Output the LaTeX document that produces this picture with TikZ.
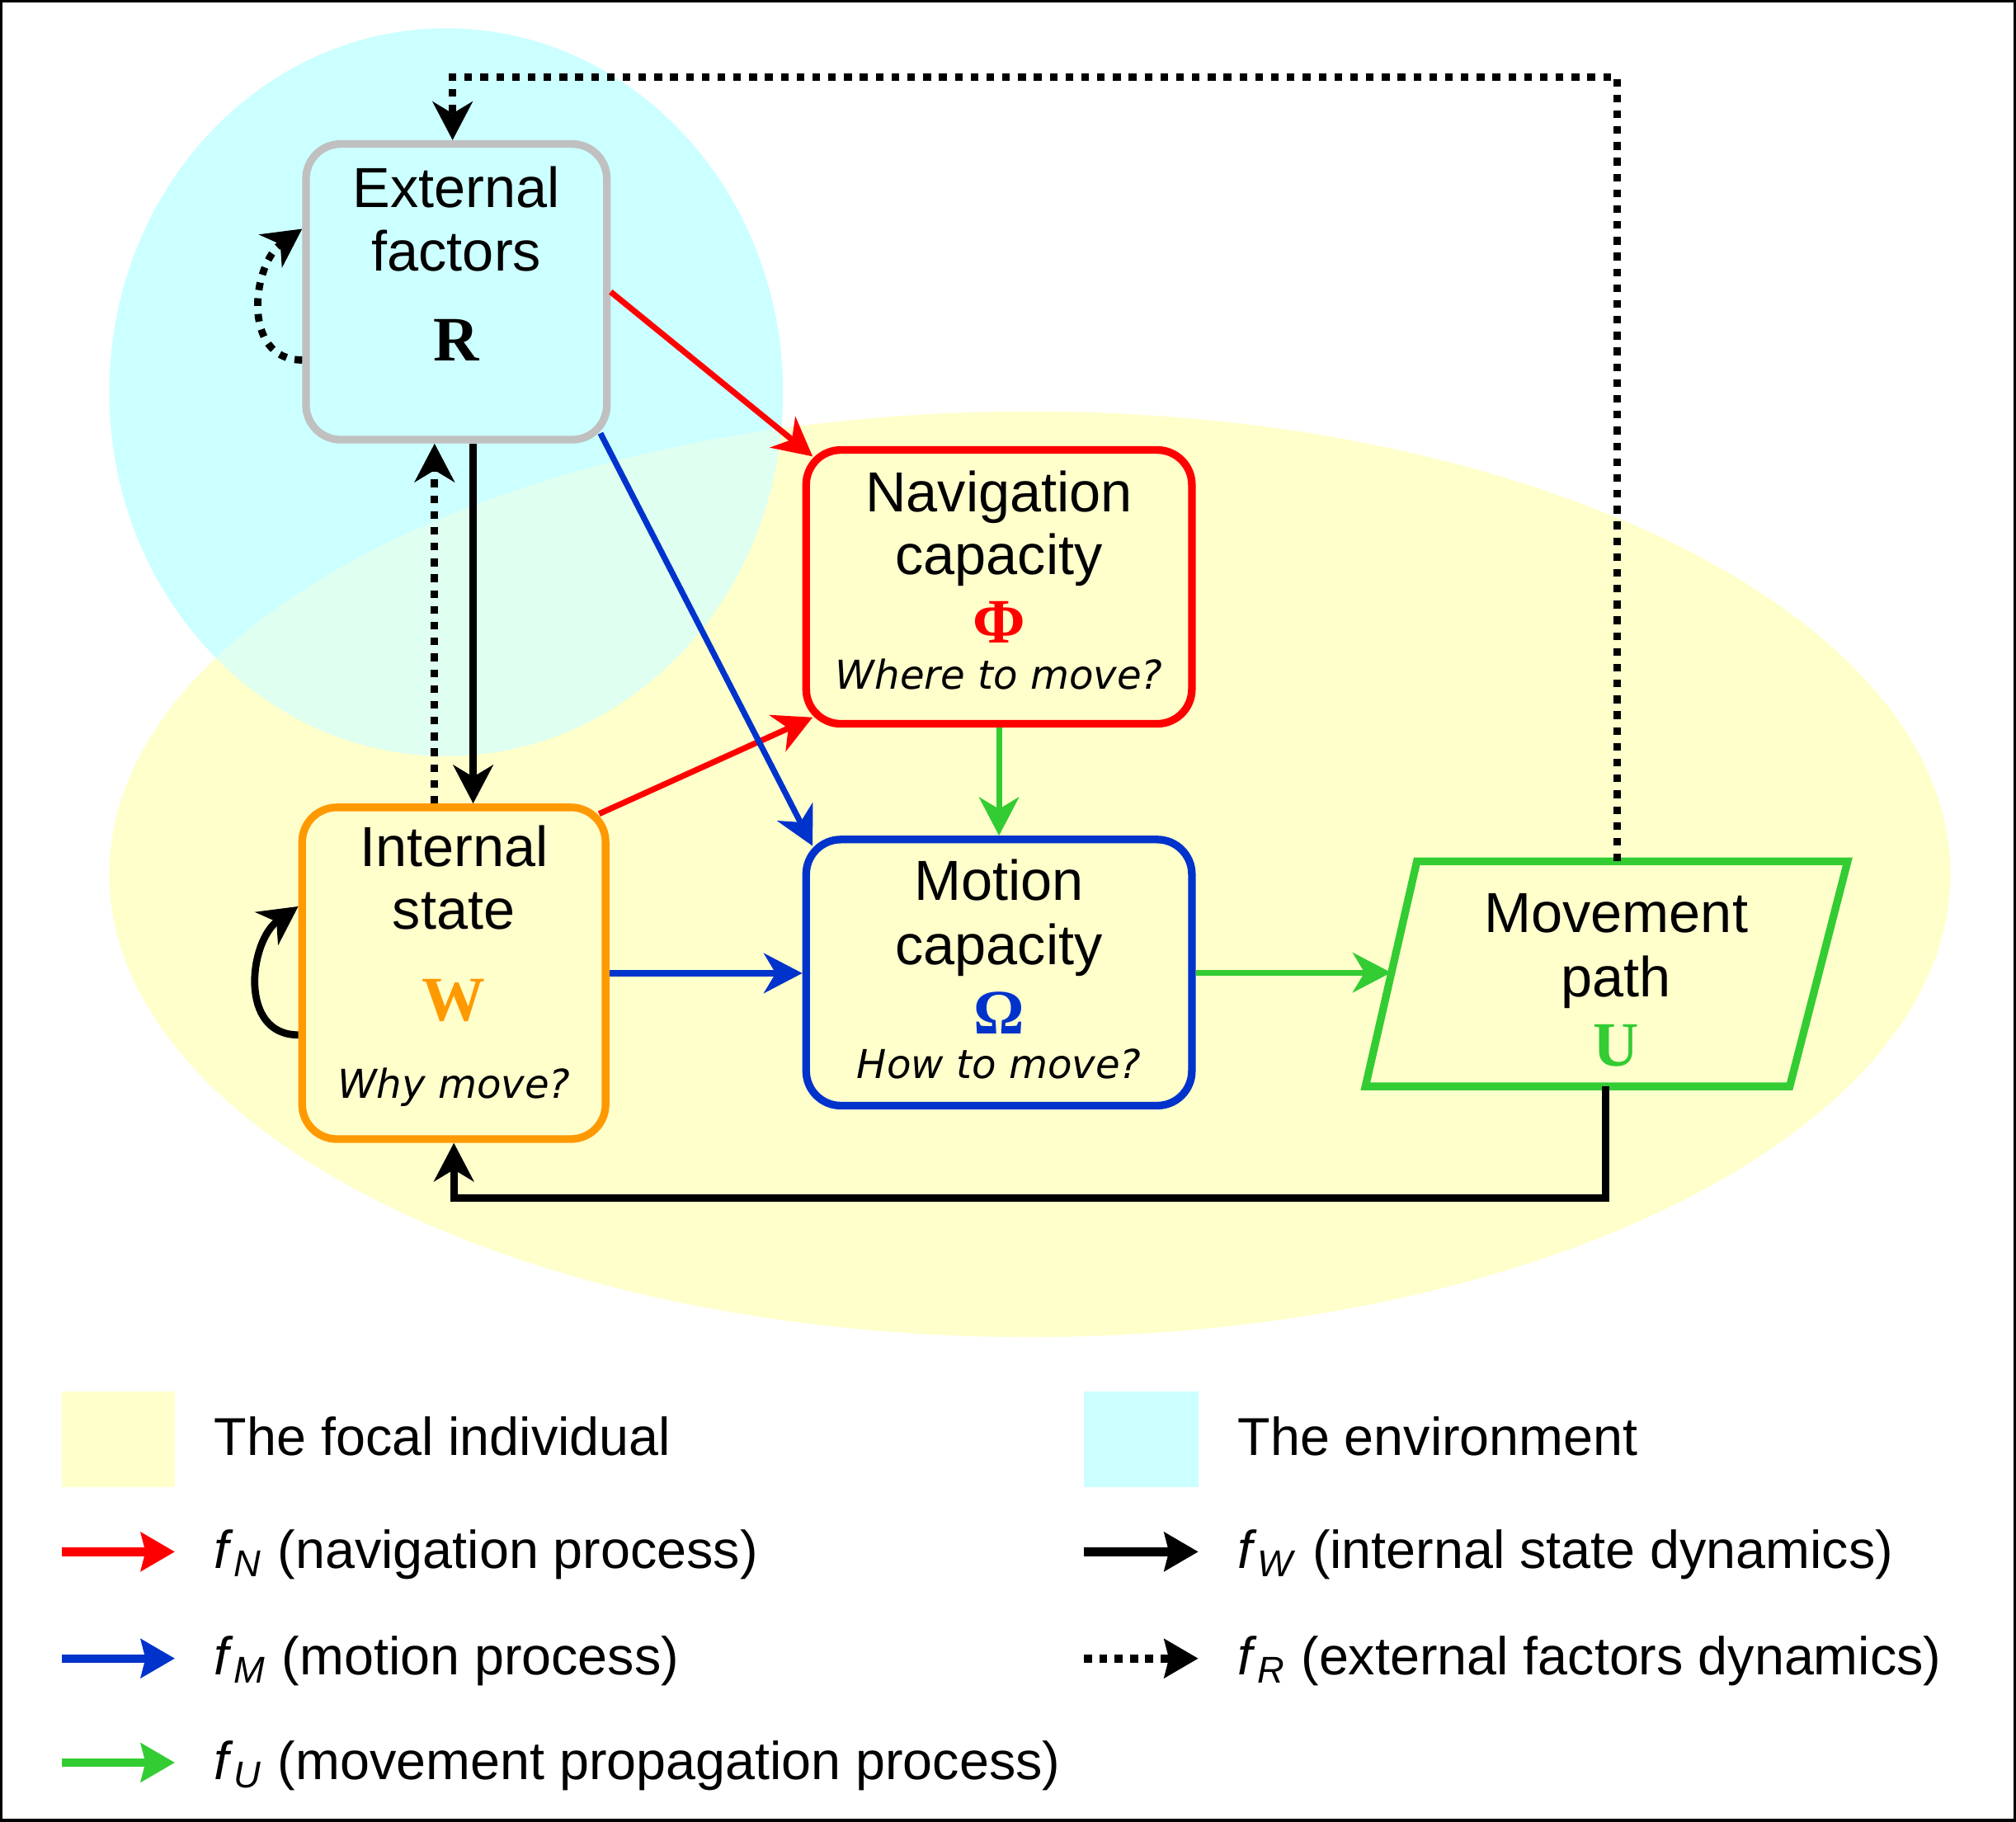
\documentclass[tikz,border=0pt]{standalone}
\usepackage{fontspec}
\setmainfont{Liberation Sans}
\newfontfamily\askfont{DejaVu Sans}
\newfontfamily\symbfont{Liberation Serif}
\usetikzlibrary{arrows.meta}

\definecolor{indivfill}{HTML}{FFFFCC}
\definecolor{envfill}{HTML}{CCFFFF}
\definecolor{bothfill}{HTML}{DFFFF0}
\definecolor{navred}{HTML}{FF0000}
\definecolor{motblue}{HTML}{0033CC}
\definecolor{pathgreen}{HTML}{33CC33}
\definecolor{stateorange}{HTML}{FF9900}
\definecolor{extgray}{HTML}{C0C0C0}

\begin{document}
\begin{tikzpicture}[
    arr/.style={-{Stealth[length=8.5pt,width=8.8pt,inset=2.6pt]}},
    lgarr/.style={-{Stealth[length=7.5pt,width=8.5pt,inset=1pt]}},
    box/.style={draw,rounded corners=2.7mm,line width=1.7pt,inner sep=0pt},
    boxtxt/.style={font=\fontsize{12.5}{14}\selectfont,anchor=base,inner sep=0pt},
    symb/.style={font=\fontsize{14}{16}\selectfont\symbfont\bfseries,anchor=base,inner sep=0pt},
    ask/.style={font=\fontsize{8.8}{10}\selectfont\askfont\itshape,anchor=base,inner sep=0pt},
    lg/.style={font=\fontsize{11.8}{14}\selectfont,anchor=base west,inner sep=0pt},
    fN/.style={line width=1.3pt,navred},
    fM/.style={line width=1.3pt,motblue},
    fU/.style={line width=1.3pt,pathgreen},
    fW/.style={line width=1.6pt,black},
    fR/.style={line width=1.6pt,black,dash pattern=on 1.7pt off 1.8pt},
  ]
  \useasboundingbox (0,0) rectangle (15.68,-14.17);

  % the focal individual and the environment
  \fill[indivfill] (8.01,-6.80) ellipse [x radius=7.16, y radius=3.60];
  \fill[envfill] (3.47,-3.05) ellipse [x radius=2.62, y radius=2.83];
  \begin{scope}
    \clip (8.01,-6.80) ellipse [x radius=7.16, y radius=3.60];
    \fill[bothfill] (3.47,-3.05) ellipse [x radius=2.62, y radius=2.83];
  \end{scope}

  % components
  \node[box,draw=extgray,minimum width=2.34cm,minimum height=2.30cm] (ext) at (3.55,-2.27) {};
  \node[box,draw=navred,minimum width=3.00cm,minimum height=2.13cm] (nav) at (7.77,-4.565) {};
  \node[box,draw=stateorange,minimum width=2.36cm,minimum height=2.58cm] (int) at (3.53,-7.57) {};
  \node[box,draw=motblue,minimum width=3.00cm,minimum height=2.07cm] (mot) at (7.77,-7.565) {};
  \draw[pathgreen,line width=1.7pt] (10.62,-8.45) -- (11.02,-6.70) -- (14.37,-6.70) -- (13.92,-8.45) -- cycle;
  \coordinate (mvp-left) at (10.82,-7.575);
  \coordinate (mvp-top) at (12.58,-6.70);
  \coordinate (mvp-bot) at (12.49,-8.45);

  \node[boxtxt] (ext-a) at (3.55,-1.615) {External};
  \node[boxtxt] (ext-b) at (3.55,-2.105) {factors};
  \node[symb] (ext-s) at (3.55,-2.81) {R};

  \node[boxtxt] (nav-a) at (7.77,-3.98) {Navigation};
  \node[boxtxt] (nav-b) at (7.77,-4.47) {capacity};
  \node[symb,navred] (nav-s) at (7.77,-5.00) {Φ};
  \node[ask] (nav-q) at (7.77,-5.36) {Where to move?};

  \node[boxtxt] (int-a) at (3.53,-6.74) {Internal};
  \node[boxtxt] (int-b) at (3.53,-7.23) {state};
  \node[symb,stateorange] (int-s) at (3.53,-7.94) {W};
  \node[ask] (int-q) at (3.53,-8.54) {Why move?};

  \node[boxtxt] (mot-a) at (7.77,-7.00) {Motion};
  \node[boxtxt] (mot-b) at (7.77,-7.50) {capacity};
  \node[symb,motblue] (mot-s) at (7.77,-8.04) {Ω};
  \node[ask] (mot-q) at (7.77,-8.39) {How to move?};

  \node[boxtxt] (mvp-a) at (12.57,-7.25) {Movement};
  \node[boxtxt] (mvp-b) at (12.57,-7.75) {path};
  \node[symb,pathgreen] (mvp-s) at (12.57,-8.29) {U};

  % processes
  \draw[fN,arr] (ext.east) -- ([shift={(0.08,-0.08)}]nav.north west);
  \draw[fN,arr] ([shift={(-0.08,-0.08)}]int.north east) -- ([shift={(0.08,0.08)}]nav.south west);
  \draw[fM,arr] ([shift={(-0.08,0.08)}]ext.south east) -- ([shift={(0.08,-0.08)}]mot.north west);
  \draw[fM,arr] (int.east) -- (int.east -| mot.west);
  \draw[fU,arr] (nav.south) -- (mot.north);
  \draw[fU,arr] (mot.east) -- (mot.east -| mvp-left);

  % dynamics
  \draw[fW,arr] ([xshift=0.13cm]ext.south) -- ([xshift=0.13cm]ext.south |- int.north);
  \draw[fR,arr] ([xshift=-0.17cm]ext.south |- int.north) -- ([xshift=-0.17cm]ext.south);
  \draw[fW,arr] ([yshift=-0.48cm]int.west) to[out=180,in=215,looseness=1.2] ([yshift=0.52cm]int.west);
  \draw[fR,arr] ([yshift=-0.53cm]ext.west) to[out=180,in=215,looseness=1.2] ([yshift=0.49cm]ext.west);
  \draw[fW,arr] (mvp-bot) -- ++(0,-0.87) -| (int.south);
  \coordinate (topline) at (0,-0.60);
  \draw[fR,arr] (mvp-top) -- (mvp-top |- topline) -| ([xshift=-0.03cm]ext.north);

  % legend
  \fill[indivfill] (0.48,-10.82) rectangle (1.36,-11.57);
  \fill[envfill] (8.43,-10.82) rectangle (9.32,-11.57);
  \node[lg] (lg-ind) at (1.66,-11.32) {The focal individual};
  \node[lg] (lg-env) at (9.62,-11.32) {The environment};
  \node[lg] (lg-N) at (1.66,-12.20) {\textit{f}\textsubscript{\textit{N}} (navigation process)};
  \node[lg] (lg-M) at (1.66,-13.03) {\textit{f}\textsubscript{\textit{M}} (motion process)};
  \node[lg] (lg-U) at (1.66,-13.84) {\textit{f}\textsubscript{\textit{U}} (movement propagation process)};
  \node[lg] (lg-W) at (9.62,-12.20) {\textit{f}\textsubscript{\textit{W}} (internal state dynamics)};
  \node[lg] (lg-R) at (9.62,-13.03) {\textit{f}\textsubscript{\textit{R}} (external factors dynamics)};
  \draw[line width=1.9pt,navred,lgarr] ([shift={(-1.18,0.13)}]lg-N.base west) -- ([shift={(-0.30,0.13)}]lg-N.base west);
  \draw[line width=1.9pt,motblue,lgarr] ([shift={(-1.18,0.13)}]lg-M.base west) -- ([shift={(-0.30,0.13)}]lg-M.base west);
  \draw[line width=1.9pt,pathgreen,lgarr] ([shift={(-1.18,0.13)}]lg-U.base west) -- ([shift={(-0.30,0.13)}]lg-U.base west);
  \draw[line width=1.9pt,lgarr] ([shift={(-1.19,0.13)}]lg-W.base west) -- ([shift={(-0.30,0.13)}]lg-W.base west);
  \draw[line width=1.9pt,dash pattern=on 1.8pt off 1.6pt,lgarr] ([shift={(-1.19,0.13)}]lg-R.base west) -- ([shift={(-0.30,0.13)}]lg-R.base west);

  % frame
  \draw[line width=0.6pt] (0.01,-0.01) rectangle (15.67,-14.16);
\end{tikzpicture}
\end{document}
